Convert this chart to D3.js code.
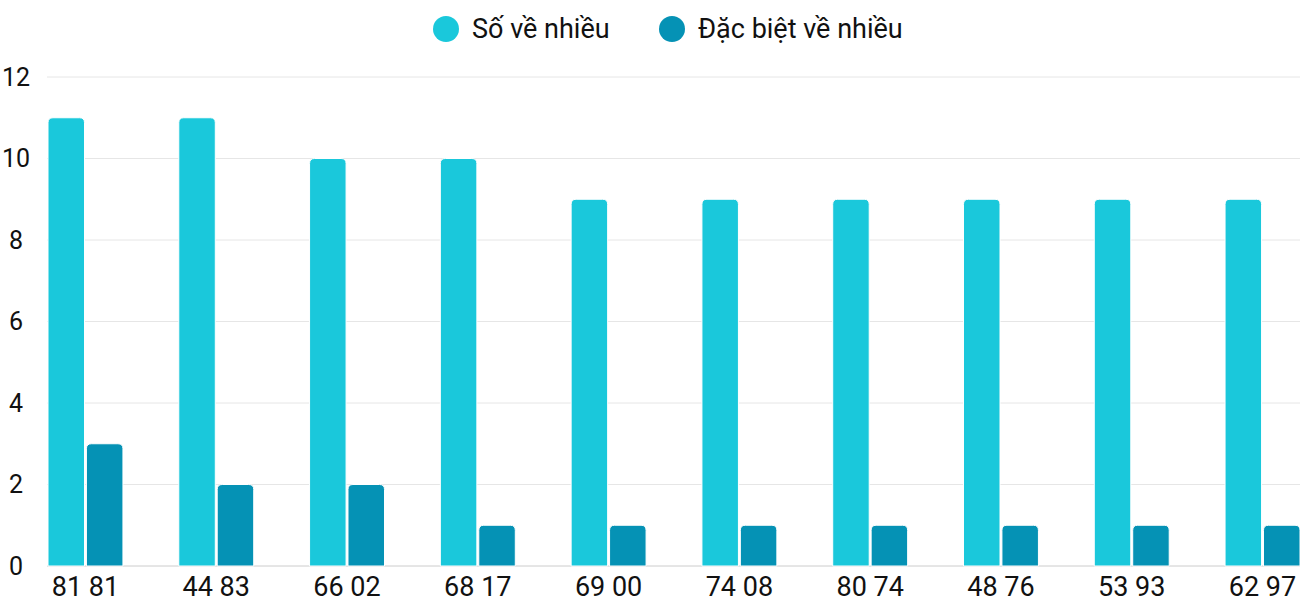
<!DOCTYPE html>
<html><head><meta charset="utf-8">
<script src="https://cdn.jsdelivr.net/npm/d3@7"></script>
<style>body{margin:0;background:#fff}text{font-family:Roboto,sans-serif;fill:#111}</style>
</head><body>
<svg id="chart" width="1300" height="600"></svg>
<script>
// chart data
const categories = ["81 81", "44 83", "66 02", "68 17", "69 00", "74 08", "80 74", "48 76", "53 93", "62 97"];
const soVeNhieu = [11, 11, 10, 10, 9, 9, 9, 9, 9, 9];
const dacBiet = [3, 2, 2, 1, 1, 1, 1, 1, 1, 1];
const yTicks = [0, 2, 4, 6, 8, 10, 12];
const seriesNames = ["Số về nhiều", "Đặc biệt về nhiều"];
const colors = ["#1ac8db", "#0592b5"];

const svg = d3.select("#chart");
const x = d3.scaleBand().domain(categories).range([48, 1300]).paddingInner(0.427).paddingOuter(0);
const y = d3.scaleLinear().domain([0, 12]).range([566, 77]);
const xs = d3.scaleBand().domain([0, 1]).range([0, x.bandwidth()]).paddingInner(0.05);

svg.append("g").selectAll("line").data(yTicks).enter().append("line")
  .attr("x1", 47).attr("x2", 1300)
  .attr("y1", d => y(d)).attr("y2", d => y(d))
  .attr("stroke", d => d === 0 ? "#ccc" : "#e6e6e6").attr("stroke-width", 1);

svg.append("g").selectAll("text").data(yTicks).enter().append("text")
  .attr("x", 16).attr("y", d => y(d)).attr("dy", "0.35em")
  .attr("text-anchor", "middle").style("font-size", "25px").text(d => d);

// rounded-top bar path
function barPath(x0, w, yTop, yBot, r) {
  r = Math.min(r, (yBot - yTop));
  return `M${x0},${yBot}V${yTop + r}Q${x0},${yTop} ${x0 + r},${yTop}H${x0 + w - r}Q${x0 + w},${yTop} ${x0 + w},${yTop + r}V${yBot}Z`;
}

[soVeNhieu, dacBiet].forEach((vals, s) => {
  svg.append("g").selectAll("path").data(vals).enter().append("path")
    .attr("d", (d, i) => barPath(x(categories[i]) + xs(s), xs.bandwidth(), y(d), y(0), 5))
    .attr("fill", colors[s]).attr("stroke", "#fff").attr("stroke-width", 1);
});

svg.append("g").selectAll("text").data(categories).enter().append("text")
  .attr("x", d => x(d) + x.bandwidth() / 2).attr("y", 596)
  .attr("text-anchor", "middle").style("font-size", "27px").text(d => d);

// legend
const legendX = [446, 672];
seriesNames.forEach((n, i) => {
  svg.append("circle").attr("cx", legendX[i]).attr("cy", 29).attr("r", 13).attr("fill", colors[i]);
  svg.append("text").attr("x", legendX[i] + 26).attr("y", 29).attr("dy", "0.35em")
    .style("font-size", "27px").text(n);
});
</script>
</body></html>
